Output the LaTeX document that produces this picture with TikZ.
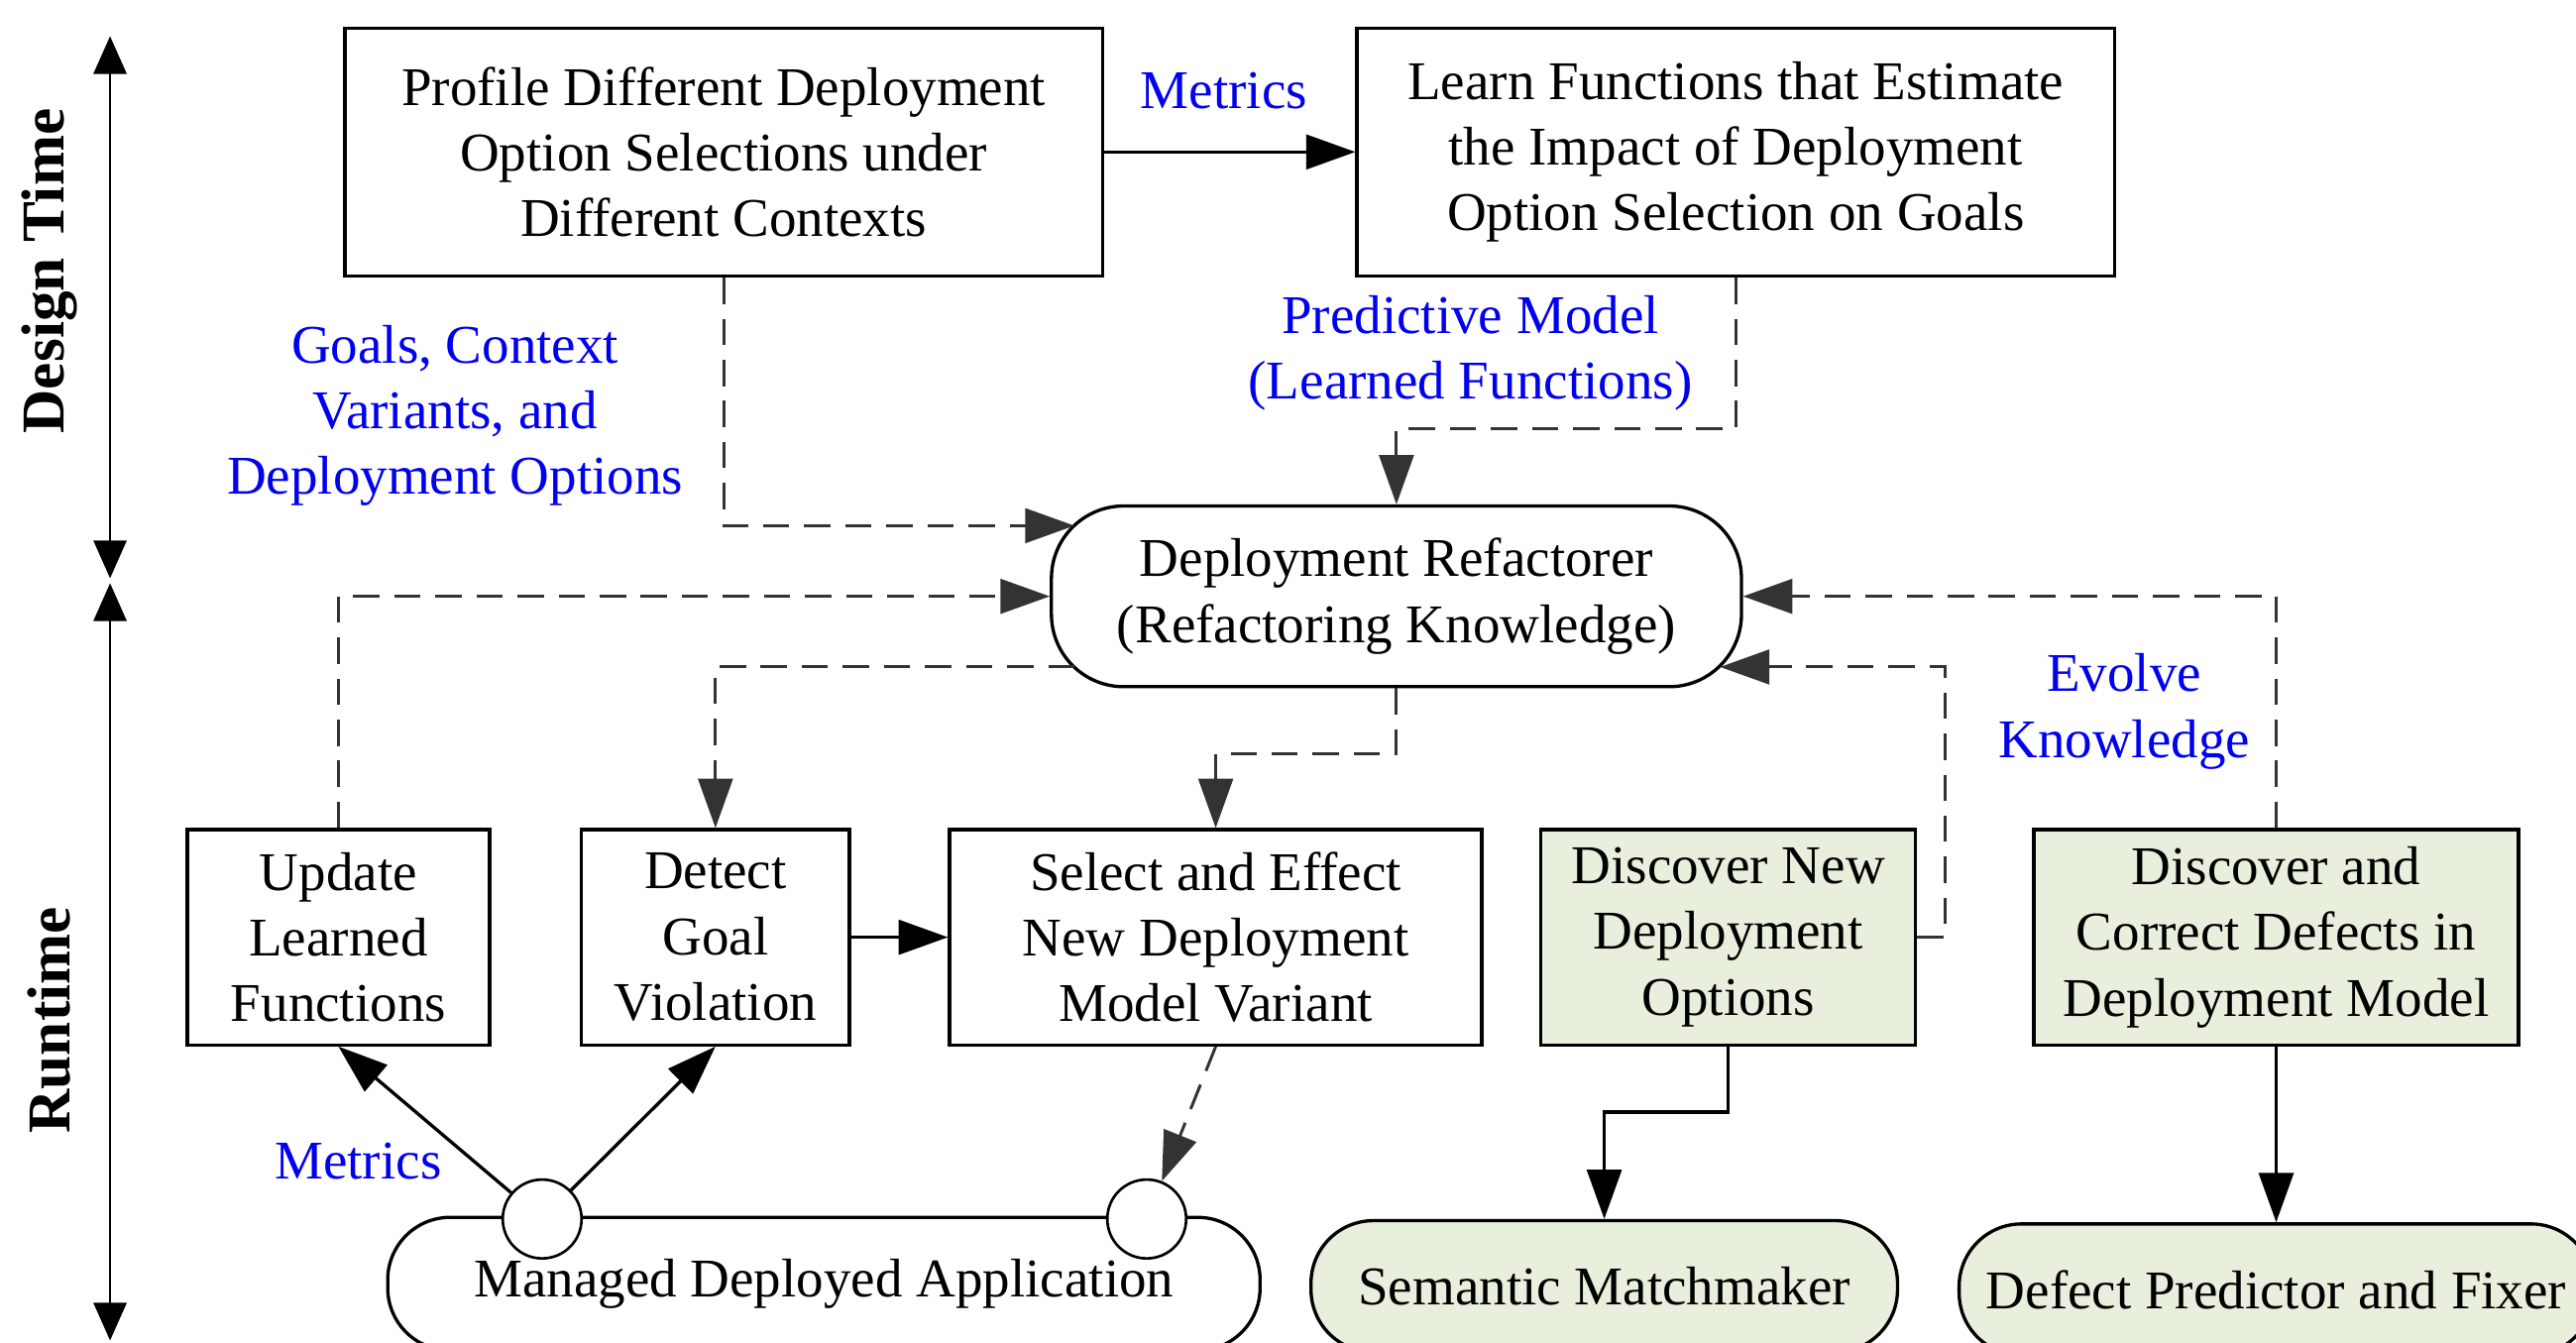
\documentclass[tikz,border=0pt]{standalone}
\usepackage{fontspec}
\setmainfont{Liberation Serif}
\usetikzlibrary{arrows.meta,calc}
\definecolor{lgreen}{RGB}{232,239,220}
\definecolor{lblblue}{RGB}{0,0,240}
\begin{document}
\begin{tikzpicture}[x=0.5pt,y=-0.5pt,
  font=\fontsize{16.6}{20}\selectfont,
  box/.style={draw, line width=1pt, align=center, inner sep=0pt},
  rbox/.style={box, rounded corners=22pt},
  gbox/.style={box, fill=lgreen},
  lbl/.style={text=lblblue, align=center, inner sep=0pt},
  arr/.style={-{Triangle[length=15pt,width=10.5pt]}},
  dsh/.style={line width=0.9pt, draw=black!80, dash pattern=on 8pt off 4.5pt},
  sol/.style={line width=1pt, draw=black},
  port/.style={circle, draw, line width=0.8pt, fill=white, minimum size=24pt, inner sep=0pt},
  axis/.style={line width=0.8pt, {Triangle[length=11.5pt,width=10pt]}-{Triangle[length=11.5pt,width=10pt]}},
  side/.style={font=\fontsize{18.5}{22}\selectfont\bfseries, rotate=90, inner sep=0pt}
]
\useasboundingbox (0,0) rectangle (1568,817);
\clip (0,0) rectangle (1568,817);

% side axes
\coordinate (dtTop) at (67,22);
\coordinate (dtBot) at (67,352);
\coordinate (rtTop) at (67,355);
\coordinate (rtBot) at (67,816);
\draw[axis] (dtTop) -- (dtBot);
\draw[axis] (rtTop) -- (rtBot);
\node[side] (dtime) at (30,165) {Design Time};
\node[side] (rtime) at (30,621) {Runtime};

% design time boxes
\node[box, minimum width=230.5pt, minimum height=75.5pt] (prof) at (440.5,92.5)
  {Profile Different Deployment\\Option Selections under\\Different Contexts};
\node[box, minimum width=230.5pt, minimum height=75.5pt] (learn) at (1056.5,92.5)
  {Learn Functions that Estimate\\the Impact of Deployment\\Option Selection on Goals};

% refactorer
\node[rbox, minimum width=210pt, minimum height=55pt] (ref) at (850,363)
  {Deployment Refactorer\\(Refactoring Knowledge)};

% runtime boxes
\node[box, minimum width=92pt, minimum height=65.5pt] (upd) at (206,570.5)
  {Update\\Learned\\Functions};
\node[box, minimum width=81.5pt, minimum height=65.5pt] (det) at (435.5,570.5)
  {Detect\\Goal\\Violation};
\node[box, minimum width=162pt, minimum height=65.5pt] (sel) at (740,570.5)
  {Select and Effect\\New Deployment\\Model Variant};
\node[gbox, minimum width=114pt, minimum height=65.5pt] (dn) at (1052,570.5)
  {Discover New\\Deployment\\Options};
\node[gbox, minimum width=147.5pt, minimum height=65.5pt] (dc) at (1385.5,570.5)
  {Discover and\\Correct Defects in\\Deployment Model};

% bottom rounded nodes
\node[box, rounded corners=19pt, minimum width=265.5pt, minimum height=40.5pt] (app) at (501.5,781.5)
  {Managed Deployed Application};
\node[box, rounded corners=19pt, fill=lgreen, minimum width=178.5pt, minimum height=40pt] (sem) at (976.5,783)
  {Semantic Matchmaker};
\node[box, rounded corners=19pt, fill=lgreen, minimum width=193pt, minimum height=40pt] (def) at (1385.5,785)
  {Defect Predictor and Fixer};
\node[port] (c1) at (330,742) {};
\node[port] (c2) at (698,742) {};

% labels
\node[lbl] (lmet1) at (745,55) {Metrics};
\node[lbl] (lgoal) at (277,253) {Goals, Context\\Variants, and\\Deployment Options};
\node[lbl] (lpred) at (895,215) {Predictive Model\\(Learned Functions)};
\node[lbl] (levo) at (1293,433) {Evolve\\Knowledge};
\node[lbl] (lmet2) at (218,707) {Metrics};

% tip coordinates on the rounded refactorer
\coordinate (tA) at (654,320);
\coordinate (sB) at (654,406);
\coordinate (tC) at (1047,406);

% connectors
\draw[sol,arr] (prof.east) -- (learn.west);
\draw[dsh,arr] (prof.south) |- (tA);
\draw[dsh,arr] (learn.south) -- ++(0,92) -| (ref.north);
\draw[dsh,arr] (upd.north) |- (ref.west);
\draw[dsh,arr] (sB) -| (det.north);
\draw[dsh,arr] (ref.south) -- ++(0,40) -| (sel.north);
\draw[sol,arr] (det.east) -- (sel.west);
\draw[dsh,arr] (dn.east) -- ++(17,0) |- (tC);
\draw[dsh,arr] (dc.north) |- (ref.east);
\draw[sol,arr] (dn.south) -- ++(0,40) -| (sem.north);
\draw[sol,arr] (dc.south) -- (def.north);
\draw[sol,arr] (c1) -- (upd.south);
\draw[sol,arr] (c1) -- (det.south);
\draw[dsh,arr] (sel.south) -- (c2);
\end{tikzpicture}
\end{document}
